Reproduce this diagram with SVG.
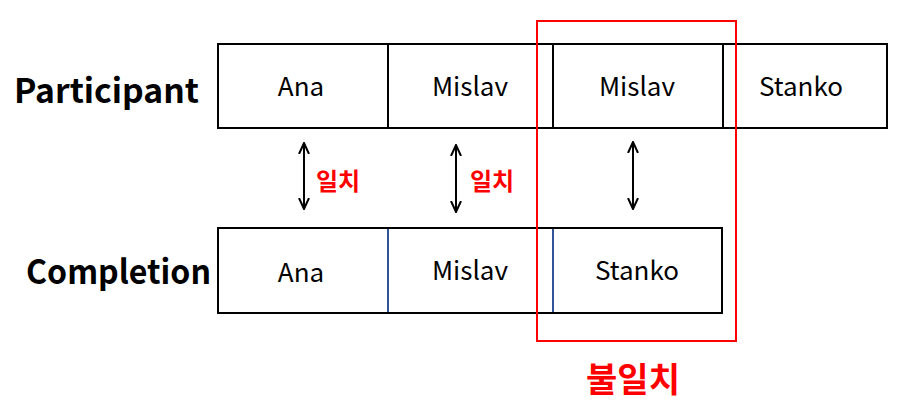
<svg xmlns="http://www.w3.org/2000/svg" width="907" height="407" viewBox="0 0 907 407">
<style>
.cell{fill:#fff;stroke:#000;stroke-width:2}
.div{stroke:#000;stroke-width:2}
.bdiv{stroke:#2F5597;stroke-width:2}
.t{font-family:"Noto Sans CJK KR","Open Sans",sans-serif;font-size:26px;fill:#000;text-anchor:middle}
.h{font-family:"Noto Sans CJK KR","Open Sans",sans-serif;font-size:33px;font-weight:bold;fill:#000}
.r{font-family:"Noto Sans CJK KR",sans-serif;font-weight:bold;fill:#ff0000}
.arr{stroke:#000;stroke-width:2;fill:none}
</style>
<defs>
<marker id="ah" viewBox="0 0 12 12" refX="11" refY="6" markerWidth="12" markerHeight="12" markerUnits="userSpaceOnUse" orient="auto-start-reverse">
<path d="M0,1 L11,6 L0,11" fill="none" stroke="#000" stroke-width="2"/>
</marker>
</defs>
<g id="labels">
<text class="h" x="14" y="103" textLength="185" lengthAdjust="spacingAndGlyphs">Participant</text>
<text class="h" x="26" y="284" textLength="185" lengthAdjust="spacingAndGlyphs">Completion</text>
</g>
<g id="participant">
<rect class="cell" x="218" y="44" width="669" height="84"/>
<line class="div" x1="388" y1="44" x2="388" y2="128"/>
<line class="div" x1="553" y1="44" x2="553" y2="128"/>
<line class="div" x1="723" y1="44" x2="723" y2="128"/>
<text class="t" x="301" y="96">Ana</text>
<text class="t" x="470" y="96">Mislav</text>
<text class="t" x="637" y="96">Mislav</text>
<text class="t" x="801" y="96">Stanko</text>
</g>
<g id="completion">
<rect class="cell" x="218" y="228" width="504" height="85"/>
<line class="bdiv" x1="388" y1="229" x2="388" y2="312"/>
<line class="bdiv" x1="553" y1="229" x2="553" y2="312"/>
<text class="t" x="301" y="282">Ana</text>
<text class="t" x="470" y="280">Mislav</text>
<text class="t" x="637" y="280">Stanko</text>
</g>
<g id="connectors">
<line class="arr" x1="304" y1="143" x2="304" y2="209" marker-start="url(#ah)" marker-end="url(#ah)"/>
<line class="arr" x1="456" y1="145" x2="456" y2="212" marker-start="url(#ah)" marker-end="url(#ah)"/>
<line class="arr" x1="633" y1="142" x2="633" y2="209" marker-start="url(#ah)" marker-end="url(#ah)"/>
</g>
<g id="mismatch">
<rect x="537" y="21" width="199" height="320" fill="none" stroke="#ff0000" stroke-width="2"/>
</g>
<g id="match-labels">
<text class="r" x="316" y="190" font-size="24">일치</text>
<text class="r" x="470" y="190" font-size="24">일치</text>
<text class="r" x="633" y="392" font-size="34" text-anchor="middle">불일치</text>
</g>
</svg>
